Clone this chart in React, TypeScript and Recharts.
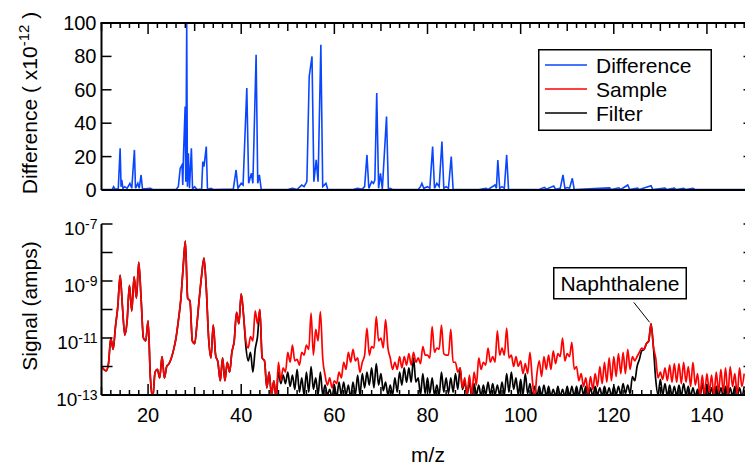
import React from "react";
import { LineChart, Line, XAxis, YAxis, ReferenceLine } from "recharts";

const FONT = '"Liberation Sans", Arial, Helvetica, sans-serif';
const BLUE = "#0a46ff";
const RED = "#ff0000";

// upper panel: Difference (x10^-12) read at irregular m/z positions
const diffMz = [
  10, 12.3, 12.6, 12.9, 13.6, 14, 14.2, 14.35, 14.6, 15, 15.5, 16.1, 16.5, 17.07, 17.3, 17.8, 18.1, 18.5, 18.8,
  20.5, 21, 26, 26.5, 26.9, 27.1, 27.3, 27.45, 27.6, 27.96, 28.1, 28.3, 28.45, 28.65, 28.9, 29.3, 29.55, 30,
  30.5, 31.5, 31.75, 32, 32.5, 32.75, 33.5, 34, 38.3, 38.9, 39.3, 40, 40.4, 41.2, 41.6, 42.2, 42.5, 43.2,
  43.55, 43.9, 44.3, 50, 51, 52, 53, 53.5, 54.1, 54.6, 55.2, 55.6, 56.1, 56.5, 57.1, 57.5, 58.2, 58.6, 60,
  64, 65, 66, 66.5, 67, 67.4, 68, 68.4, 68.7, 69.1, 69.5, 69.9, 70.3, 71.2, 71.6, 72, 72.5, 78, 78.5, 78.8,
  79.2, 80, 80.5, 81.1, 81.5, 82, 82.5, 83.1, 83.5, 84, 84.5, 85.1, 85.5, 91, 92.6, 93, 94.5, 94.8, 95.1,
  95.5, 96, 96.5, 97, 97.4, 104, 105.1, 105.5, 107.1, 107.5, 108.5, 109.1, 109.5, 110, 110.5, 111.1, 111.5,
  119.1, 119.5, 121.1, 121.5, 123, 123.4, 125.1, 125.5, 128, 128.4, 131, 131.4, 133, 133.4, 135, 135.4, 137,
  137.4, 150,
];
const diffVal = [
  0.3, 0.3, 2, 0.5, 0.5, 25, 2, 6, 1, 2, 1, 4, 1, 24, 1, 4, 1, 9, 0.5,
  1, 0.3, 0.3, 2, 13, 14, 15, 3, 20, 50, 5, 100, 2, 22, 1, 25, 0.5, 2,
  0.3, 0.5, 17, 14, 26, 0.5, 1, 0.3, 0.5, 12, 1, 4, 3, 61, 4, 10, 4, 81,
  4, 9, 0.3, 0.3, 1, 0.3, 3, 2, 5, 68, 80, 5, 18, 5, 87, 2, 4, 0.2, 0.3,
  0.3, 1, 0.5, 2, 21, 1, 5, 4, 6, 58, 1, 10, 0.5, 44, 0.5, 1, 0.3, 0.3, 2, 4,
  1, 2, 1, 26, 1, 4, 2, 29, 1, 2, 1, 20, 0.3, 0.3, 1, 0.3, 3, 1, 18,
  1, 2, 1, 21, 0.3, 0.3, 1.6, 0.5, 2.4, 0.5, 1, 9, 1, 1.5, 1, 7, 0.3,
  1.3, 0.3, 1.3, 0.3, 3, 0.3, 1.2, 0.3, 2.5, 0.3, 1.2, 0.3, 1.2, 0.3, 1, 0.3, 1,
  0.3, 0.3,
];

// lower panel: log10(signal / amps), one reading every 0.5 m/z from 10 to 148
const MZ_START = 10;
const MZ_STEP = 0.5;
const sampleLog = [
  -12.0, -12.1, -12.15, -11.9, -11.0, -11.4, -10.6, -9.9, -8.8, -9.9, // 10
  -10.9, -10.4, -9.15, -10.05, -8.85, -9.6, -8.35, -9.6, -11.0, -11.1, // 15
  -10.4, -12.4, -13.1, -12.2, -12.1, -12.4, -11.65, -12.4, -12.0, -11.9, // 20
  -11.7, -11.4, -11.0, -10.4, -9.7, -8.6, -7.6, -9.6, -9.7, -11.1, // 25
  -11.2, -10.5, -9.6, -8.8, -8.2, -9.25, -11.0, -11.7, -10.55, -11.6, // 30
  -11.85, -12.5, -11.7, -12.5, -11.85, -12.2, -11.5, -11.1, -10.1, -10.5, // 35
  -9.45, -10.2, -11.1, -11.35, -10.95, -11.1, -10.05, -10.5, -10.0, -11.7, // 40
  -11.8, -12.75, -12.2, -13.0, -12.5, -13.1, -11.85, -12.5, -12.05, -12.2, // 45
  -11.5, -11.85, -11.25, -11.8, -11.75, -11.95, -11.5, -11.6, -11.25, -11.4, // 50
  -10.13, -11.6, -10.7, -11.1, -10.07, -11.7, -12.3, -12.65, -12.4, -12.75, // 55
  -12.5, -12.6, -12.2, -12.4, -11.85, -12.1, -11.5, -11.85, -11.4, -11.8, // 60
  -11.7, -12.2, -11.85, -11.6, -10.65, -11.6, -11.3, -11.35, -10.25, -11.1, // 65
  -11.0, -11.35, -10.35, -11.35, -11.7, -12.1, -11.85, -12.1, -11.65, -12.05, // 70
  -11.65, -11.95, -11.55, -11.95, -11.5, -11.85, -11.7, -11.9, -11.3, -11.6, // 75
  -11.6, -11.7, -10.6, -11.5, -11.35, -11.4, -10.55, -11.55, -11.6, -11.6, // 80
  -10.7, -11.85, -11.85, -12.2, -12.05, -12.75, -12.4, -13.0, -12.3, -13.0, // 85
  -12.2, -12.65, -11.7, -12.1, -11.85, -11.95, -11.35, -11.85, -11.65, -11.85, // 90
  -10.75, -11.6, -11.35, -11.6, -10.65, -11.7, -11.6, -12.0, -11.65, -12.0, // 95
  -11.8, -12.25, -11.9, -12.25, -11.5, -12.45, -13.1, -12.25, -11.8, -12.35, // 100
  -11.65, -12.1, -11.6, -12.1, -11.45, -11.9, -11.55, -11.65, -11.0, -11.8, // 105
  -11.55, -11.65, -11.15, -12.1, -12.0, -12.5, -12.25, -12.7, -12.4, -12.95, // 110
  -12.35, -12.8, -12.25, -12.7, -12.0, -12.6, -11.85, -12.55, -11.7, -12.5, // 115
  -11.65, -12.35, -11.55, -12.25, -11.5, -12.25, -11.4, -12.1, -11.65, -11.8, // 120
  -11.65, -11.5, -11.35, -11.4, -11.2, -11.1, -10.5, -11.3, -11.7, -12.4, // 125
  -12.2, -12.45, -12.05, -12.5, -11.95, -12.55, -11.9, -12.55, -11.9, -12.6, // 130
  -11.85, -12.55, -12.0, -12.7, -11.85, -12.65, -12.25, -13.05, -12.3, -13.0, // 135
  -12.25, -12.9, -12.3, -13.05, -12.2, -12.9, -12.1, -12.9, -12.05, -13.0, // 140
  -12.0, -12.7, -12.25, -13.0, -12.05, -12.7, -12.25, // 145
];
const filterLog = [
  -12.0, -12.1, -12.15, -11.9, -11.0, -11.4, -10.6, -9.9, -8.8, -9.9, // 10
  -10.9, -10.4, -9.15, -10.05, -8.85, -9.6, -8.35, -9.6, -11.0, -11.1, // 15
  -10.4, -12.4, -13.1, -12.2, -12.1, -12.4, -11.65, -12.4, -12.0, -11.9, // 20
  -11.7, -11.4, -11.0, -10.4, -9.7, -8.6, -7.6, -9.6, -9.7, -11.1, // 25
  -11.2, -10.5, -9.6, -8.8, -8.2, -9.25, -11.0, -11.7, -10.55, -11.6, // 30
  -11.85, -12.5, -11.7, -12.5, -11.85, -12.2, -11.5, -11.1, -10.1, -10.5, // 35
  -9.45, -10.2, -11.3, -11.8, -11.5, -12.2, -11.4, -10.95, -10.0, -11.7, // 40
  -11.8, -12.75, -12.2, -13.0, -12.5, -13.1, -12.2, -12.6, -12.3, -12.6, // 45
  -12.2, -12.7, -12.3, -12.8, -12.1, -12.9, -12.4, -13.0, -12.2, -12.9, // 50
  -12.0, -12.8, -12.4, -13.0, -12.2, -13.0, -12.65, -13.0, -12.8, -13.1, // 55
  -12.65, -13.1, -12.55, -13.0, -12.55, -13.0, -12.65, -13.1, -12.55, -13.0, // 60
  -12.3, -13.0, -12.25, -12.75, -12.2, -12.65, -12.05, -12.75, -11.9, -12.65, // 65
  -12.25, -12.85, -12.55, -13.0, -12.65, -13.0, -12.4, -12.9, -12.2, -12.65, // 70
  -12.05, -12.55, -12.05, -12.55, -11.7, -12.55, -12.4, -13.0, -12.25, -12.95, // 75
  -12.4, -12.95, -12.4, -13.0, -12.65, -13.0, -12.2, -12.9, -12.4, -12.95, // 80
  -12.4, -12.9, -12.25, -12.8, -12.05, -12.8, -12.55, -13.0, -12.55, -13.05, // 85
  -12.6, -13.0, -12.65, -13.05, -12.65, -13.0, -12.55, -13.0, -12.6, -13.0, // 90
  -12.65, -13.0, -12.55, -13.0, -12.25, -12.9, -12.2, -12.8, -12.4, -13.0, // 95
  -12.45, -13.0, -12.25, -12.95, -12.6, -13.05, -12.7, -13.05, -12.7, -13.05, // 100
  -12.65, -13.05, -12.7, -13.05, -12.8, -13.05, -12.7, -13.05, -12.8, -13.05, // 105
  -12.7, -13.05, -12.7, -13.05, -12.7, -13.05, -12.65, -13.0, -12.7, -13.05, // 110
  -12.75, -13.05, -12.7, -13.0, -12.75, -13.05, -12.7, -13.0, -12.75, -13.05, // 115
  -12.7, -13.0, -12.7, -13.0, -12.6, -12.95, -12.65, -12.95, -12.35, -12.5, // 120
  -12.0, -11.75, -11.45, -11.4, -11.2, -11.1, -10.5, -11.3, -12.45, -13.0, // 125
  -12.45, -13.0, -12.6, -13.05, -12.65, -13.05, -12.7, -13.05, -12.65, -13.05, // 130
  -12.6, -13.0, -12.7, -13.05, -12.75, -13.05, -12.8, -13.1, -12.6, -13.05, // 135
  -12.7, -13.05, -12.75, -13.1, -12.7, -13.05, -12.75, -13.05, -12.7, -13.05, // 140
  -12.75, -13.05, -12.7, -13.05, -12.75, -13.05, -12.7, // 145
];

const mzTicks = Array.from({ length: 71 }, (_, i) => 10 + 2 * i);
const diffTicks = [0, 20, 40, 60, 80, 100];
const logTicks = [-13, -12, -11, -10, -9, -8, -7];
const labelledMz = [20, 40, 60, 80, 100, 120, 140];

const diffData = diffMz.map((mz, i) => ({ mz, diff: diffVal[i] }));
const signalData = sampleLog.map((s, i) => ({
  mz: MZ_START + i * MZ_STEP,
  sample: s,
  filter: filterLog[i],
}));

// plot frame shared by both charts (page pixels), used for the inward axis ticks
const PLOT_LEFT = 101.5;
const PLOT_W = 652;
const TOP_PLOT = { top: 23, bottom: 190 };
const BOT_PLOT = { top: 224, bottom: 395 };
const xOf = (mz: number) => PLOT_LEFT + ((mz - 10) / 140) * PLOT_W;
const yDiff = (v: number) => TOP_PLOT.bottom - (v / 100) * (TOP_PLOT.bottom - TOP_PLOT.top);
const yLog = (v: number) => BOT_PLOT.bottom - ((v + 13) / 6) * (BOT_PLOT.bottom - BOT_PLOT.top);
const tickPx = (v: number) => (v % 20 === 0 ? 11 : v % 10 === 0 ? 8 : 5);
const MZ_PER_PX = 140 / PLOT_W;

function BottomMzLabel({ x, y, payload }: any) {
  const v = payload.value;
  if (!labelledMz.includes(v)) return <g />;
  return (
    <text x={x} y={y + 27} textAnchor="middle" fontSize={20} fontFamily={FONT} fill="#000">
      {v}
    </text>
  );
}

function DiffLabel({ x, y, payload }: any) {
  return (
    <text x={x - 5} y={y + 7} textAnchor="end" fontSize={20} fontFamily={FONT} fill="#000">
      {payload.value}
    </text>
  );
}

function LogLabel({ x, y, payload }: any) {
  const v = payload.value;
  if (Math.abs(v) % 2 !== 1) return <g />;
  return (
    <text x={x - 4} y={y + 11} textAnchor="end" fontSize={19} fontFamily={FONT} fill="#000">
      10
      <tspan dy={-6} fontSize={14}>
        {v}
      </tspan>
    </text>
  );
}

const axisLine = { stroke: "#000", strokeWidth: 2 };

export default function App() {
  return (
    <div
      style={{
        position: "absolute",
        left: 0,
        top: 0,
        width: 745,
        height: 465,
        overflow: "hidden",
        background: "#fff",
      }}
    >
      <div style={{ position: "absolute", left: 0, top: 0 }}>
        <LineChart width={760} height={200} data={diffData} margin={{ top: 23, right: 6.5, bottom: 0, left: 0 }}>
          <XAxis
            xAxisId="b"
            dataKey="mz"
            type="number"
            domain={[10, 150]}
            allowDataOverflow
            height={10}
            tick={false}
            tickLine={false}
            axisLine={axisLine}
          />
          <YAxis
            yAxisId="l"
            type="number"
            domain={[0, 100]}
            allowDataOverflow
            ticks={diffTicks}
            interval={0}
            width={101.5}
            tickSize={0}
            tickMargin={0}
            tickLine={false}
            tick={DiffLabel}
            axisLine={axisLine}
          />
          {diffTicks.map((v) => (
            <ReferenceLine
              key={"r" + v}
              xAxisId="b"
              yAxisId="l"
              segment={[
                { x: 150 - 10 * MZ_PER_PX, y: v },
                { x: 150, y: v },
              ]}
              stroke="#000"
              strokeWidth={1.5}
            />
          ))}
          <Line
            xAxisId="b"
            yAxisId="l"
            dataKey="diff"
            type="linear"
            stroke={BLUE}
            strokeWidth={1.6}
            dot={false}
            isAnimationActive={false}
          />
        </LineChart>
      </div>

      <div style={{ position: "absolute", left: 0, top: 200 }}>
        <LineChart width={760} height={265} data={signalData} margin={{ top: 24, right: 6.5, bottom: 0, left: 0 }}>
          <XAxis
            dataKey="mz"
            type="number"
            domain={[10, 150]}
            allowDataOverflow
            ticks={mzTicks}
            interval={0}
            height={70}
            tickSize={0}
            tickMargin={0}
            tickLine={false}
            tick={BottomMzLabel}
            axisLine={axisLine}
          />
          <YAxis
            yAxisId="l"
            type="number"
            domain={[-13, -7]}
            allowDataOverflow
            ticks={logTicks}
            interval={0}
            width={101.5}
            tickSize={0}
            tickMargin={0}
            tickLine={false}
            tick={LogLabel}
            axisLine={axisLine}
          />
          {logTicks.map((v) => (
            <ReferenceLine
              key={"r" + v}
              yAxisId="l"
              segment={[
                { x: 150 - 10 * MZ_PER_PX, y: v },
                { x: 150, y: v },
              ]}
              stroke="#000"
              strokeWidth={1.5}
            />
          ))}
          <Line
            yAxisId="l"
            dataKey="filter"
            type="monotone"
            stroke="#000"
            strokeWidth={1.7}
            dot={false}
            isAnimationActive={false}
          />
          <Line
            yAxisId="l"
            dataKey="sample"
            type="monotone"
            stroke={RED}
            strokeWidth={1.7}
            dot={false}
            isAnimationActive={false}
          />
          <ReferenceLine
            yAxisId="l"
            segment={[
              { x: 124.3, y: -9.75 },
              { x: 127.7, y: -10.45 },
            ]}
            stroke="#000"
            strokeWidth={1}
          />
        </LineChart>
      </div>

      <svg
        width={745}
        height={465}
        style={{ position: "absolute", left: 0, top: 0, pointerEvents: "none" }}
        fontFamily={FONT}
      >
        {/* frame line on top of the upper panel and inward ticks */}
        <line x1={PLOT_LEFT - 1} x2={745} y1={TOP_PLOT.top} y2={TOP_PLOT.top} stroke="#000" strokeWidth={2} />
        {mzTicks.map((v) => (
          <line
            key={"tt" + v}
            x1={xOf(v)}
            x2={xOf(v)}
            y1={TOP_PLOT.top}
            y2={TOP_PLOT.top + tickPx(v)}
            stroke="#000"
            strokeWidth={1.5}
          />
        ))}
        {diffTicks.map((v) => (
          <line
            key={"tl" + v}
            x1={PLOT_LEFT}
            x2={PLOT_LEFT + 10}
            y1={yDiff(v)}
            y2={yDiff(v)}
            stroke="#000"
            strokeWidth={1.5}
          />
        ))}
        {mzTicks.map((v) => (
          <line
            key={"bb" + v}
            x1={xOf(v)}
            x2={xOf(v)}
            y1={BOT_PLOT.bottom}
            y2={BOT_PLOT.bottom - tickPx(v)}
            stroke="#000"
            strokeWidth={1.5}
          />
        ))}
        {logTicks.map((v) => (
          <line
            key={"bl" + v}
            x1={PLOT_LEFT}
            x2={PLOT_LEFT + 11}
            y1={yLog(v)}
            y2={yLog(v)}
            stroke="#000"
            strokeWidth={1.5}
          />
        ))}

        <text transform="translate(29,103) rotate(-90)" textAnchor="middle" fontSize={21} y={7.5}>
          Difference ( x10
          <tspan dy={-8} fontSize={15}>
            -12
          </tspan>
          <tspan dy={8}> )</tspan>
        </text>
        <text transform="translate(29,306) rotate(-90)" textAnchor="middle" fontSize={21} y={7.5}>
          Signal (amps)
        </text>
        <text x={428} y={462} textAnchor="middle" fontSize={21}>
          m/z
        </text>

        <rect x={538.75} y={49.75} width={172.5} height={80.5} fill="#fff" stroke="#000" strokeWidth={1.5} />
        <line x1={545} x2={587} y1={65} y2={65} stroke={BLUE} strokeWidth={1.6} />
        <line x1={545} x2={587} y1={89} y2={89} stroke={RED} strokeWidth={1.6} />
        <line x1={545} x2={587} y1={113} y2={113} stroke="#000" strokeWidth={1.6} />
        <text x={596} y={72.5} fontSize={21}>
          Difference
        </text>
        <text x={596} y={96.5} fontSize={21}>
          Sample
        </text>
        <text x={596} y={120.5} fontSize={21}>
          Filter
        </text>

        <rect x={553.75} y={267.75} width={132.5} height={31} fill="#fff" stroke="#000" strokeWidth={1.5} />
        <text x={620} y={291} textAnchor="middle" fontSize={21}>
          Naphthalene
        </text>
      </svg>
    </div>
  );
}
